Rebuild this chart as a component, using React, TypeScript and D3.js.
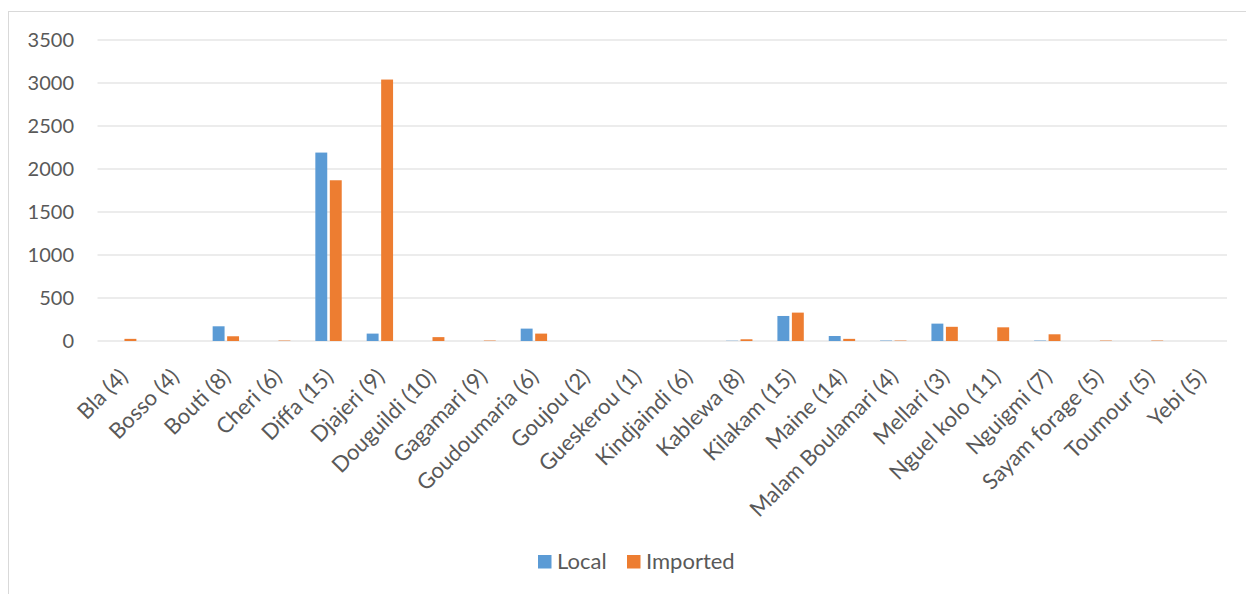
import React from "react";
import * as d3 from "d3";

const categories = [
  "Bla (4)", "Bosso (4)", "Bouti (8)", "Cheri (6)", "Diffa (15)", "Djajeri (9)",
  "Douguildi (10)", "Gagamari (9)", "Goudoumaria (6)", "Goujou (2)", "Gueskerou (1)",
  "Kindjaindi (6)", "Kablewa (8)", "Kilakam (15)", "Maine (14)", "Malam Boulamari (4)",
  "Mellari (3)", "Nguel kolo (11)", "Nguigmi (7)", "Sayam forage (5)", "Toumour (5)", "Yebi (5)",
];
const localValues = [0, 0, 171, 0, 2191, 86, 0, 0, 144, 0, 0, 0, 3, 291, 58, 5, 202, 0, 5, 0, 0, 0];
const importedValues = [25, 0, 55, 5, 1869, 3040, 45, 5, 86, 0, 0, 0, 20, 330, 25, 5, 165, 159, 78, 5, 5, 0];
const yTicks = [0, 500, 1000, 1500, 2000, 2500, 3000, 3500];
const seriesNames = ["Local", "Imported"];
const seriesColors = ["#5B9BD5", "#ED7D31"];

const FONT = "Lato, 'Open Sans', sans-serif";

export default function App() {
  const left = 97.5;
  const right = 1227;
  const top = 40;
  const bottom = 341;
  const x = d3.scaleBand<string>().domain(categories).range([left, right]).padding(0);
  const y = d3.scaleLinear().domain([0, 3500]).range([bottom, top]);
  const bw = x.bandwidth();
  const barW = bw * 0.232;
  const gap = bw * 0.05;
  const groupW = barW * 2 + gap;
  const series = [localValues, importedValues];

  return (
    <svg
      width={1246}
      height={594}
      style={{ position: "fixed", top: 0, left: 0, background: "#fff" }}
    >
      <rect x={8.5} y={11.5} width={1400} height={800} fill="#fff" stroke="#D9D9D9" strokeWidth={1} />
      {yTicks.map((t) => (
        <g key={t}>
          <line x1={left} x2={right} y1={y(t)} y2={y(t)} stroke="#D9D9D9" strokeWidth={1.2} />
          <text
            x={74}
            y={y(t)}
            dy="0.35em"
            textAnchor="end"
            fontFamily={FONT}
            fontSize={20}
            fill="#595959"
          >
            {t}
          </text>
        </g>
      ))}
      {categories.map((c, i) => {
        const x0 = (x(c) as number) + (bw - groupW) / 2;
        return (
          <g key={c}>
            {series.map((vals, s) => {
              const v = vals[i];
              const h = y(0) - y(v);
              return (
                <rect
                  key={s}
                  x={x0 + s * (barW + gap)}
                  y={y(v)}
                  width={barW}
                  height={Math.max(0, h)}
                  fill={seriesColors[s]}
                />
              );
            })}
          </g>
        );
      })}
      {categories.map((c) => {
        const cx = (x(c) as number) + bw / 2 + 6;
        const cy = bottom + 37;
        return (
          <text
            key={c}
            x={cx}
            y={cy}
            textAnchor="end"
            transform={`rotate(-45, ${cx}, ${cy})`}
            fontFamily={FONT}
            fontSize={22}
            fill="#595959"
          >
            {c}
          </text>
        );
      })}
      {seriesNames.map((n, i) => {
        const lx = i === 0 ? 538 : 627;
        return (
          <g key={n}>
            <rect x={lx} y={555} width={13.5} height={13.5} fill={seriesColors[i]} />
            <text x={lx + 19} y={561} dy="0.35em" fontFamily={FONT} fontSize={22} fill="#595959">
              {n}
            </text>
          </g>
        );
      })}
    </svg>
  );
}
